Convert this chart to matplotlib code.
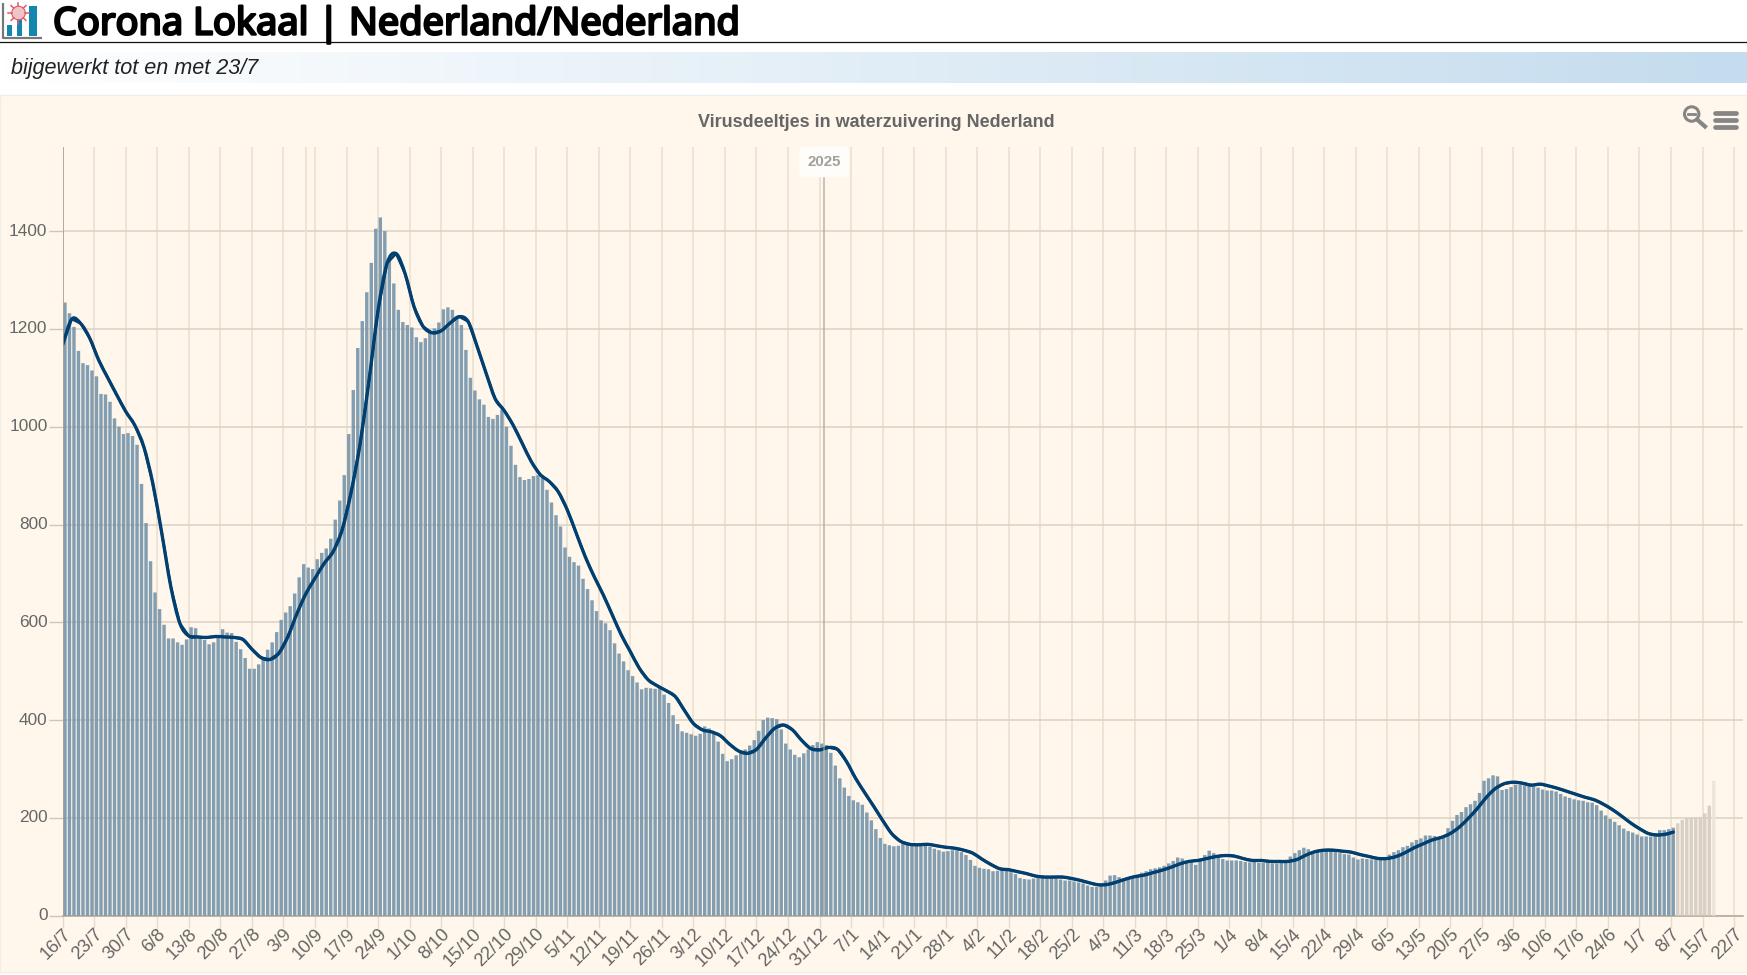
import numpy as np
import matplotlib
matplotlib.use("Agg")
import matplotlib.pyplot as plt
from matplotlib.patches import Rectangle, Circle, PathPatch
from matplotlib.path import Path
import matplotlib.patheffects as pe

title = "Corona Lokaal | Nederland/Nederland"
subtitle = "bijgewerkt tot en met 23/7"
chart_title = "Virusdeeltjes in waterzuivering Nederland"
year_label = "2025"

tick_labels = ["16/7","23/7","30/7","6/8","13/8","20/8","27/8","3/9","10/9","17/9","24/9","1/10","8/10",
    "15/10","22/10","29/10","5/11","12/11","19/11","26/11","3/12","10/12","17/12","24/12","31/12","7/1",
    "14/1","21/1","28/1","4/2","11/2","18/2","25/2","4/3","11/3","18/3","25/3","1/4","8/4","15/4","22/4",
    "29/4","6/5","13/5","20/5","27/5","3/6","10/6","17/6","24/6","1/7","8/7","15/7","22/7"]

bar_values = [
 1254,1232,1204,1155,1130,1126,1115,1103,1067,1066,
 1051,1017,1000,985,987,981,963,883,803,725,
 661,627,595,567,567,559,554,565,590,588,
 572,564,555,559,569,586,579,578,560,545,
 527,505,505,514,529,544,559,580,605,620,
 633,659,692,719,712,709,729,742,751,771,
 810,849,901,985,1075,1161,1216,1275,1335,1405,
 1428,1400,1340,1293,1239,1214,1208,1203,1183,1173,
 1181,1195,1201,1213,1240,1244,1239,1225,1208,1157,
 1100,1074,1056,1045,1020,1016,1024,1035,1000,961,
 922,897,891,893,899,901,895,871,845,819,
 796,753,734,723,716,689,668,645,623,604,
 598,584,557,536,520,502,490,477,463,466,
 465,464,467,452,435,410,392,377,374,371,
 368,372,387,383,373,356,331,316,320,328,
 335,340,348,359,378,400,405,404,402,381,
 352,340,329,324,332,340,349,355,352,349,
 333,307,281,262,245,236,232,227,211,195,
 177,159,147,144,142,143,147,146,144,143,
 143,143,141,137,134,131,132,134,134,130,
 124,114,102,98,96,95,91,92,95,95,
 89,85,77,75,74,76,77,77,76,76,
 76,74,72,72,70,68,66,62,59,59,
 63,72,82,83,79,76,78,78,81,88,
 91,95,97,99,102,107,112,119,117,109,
 108,104,114,124,133,128,120,116,113,113,
 113,112,110,109,110,108,108,108,107,107,
 110,114,121,128,134,139,136,131,133,134,
 134,133,130,128,126,125,119,115,117,116,
 115,115,117,119,125,130,134,140,143,150,
 155,158,164,164,163,161,163,179,194,206,
 212,222,228,235,251,276,281,287,285,257,
 259,263,268,268,267,266,264,262,258,256,
 256,254,249,244,241,238,236,235,232,231,
 226,215,205,198,192,185,178,173,170,166,
 162,162,162,166,175,175,177,180]
provisional_values = [189,196,200,201,201,202,209,225,276]

line_values = [
 1168,1220,1211,1181,1136,1100,1065,1031,1003,959,
 884,782,673,598,572,570,569,571,570,569,
 565,545,528,524,537,571,618,659,690,720,
 744,788,865,964,1095,1238,1334,1354,1313,1245,
 1205,1192,1196,1212,1225,1215,1164,1109,1057,1033,
 1003,966,929,902,888,867,830,782,734,693,
 656,615,574,540,506,482,470,460,448,420,
 393,380,376,368,351,337,332,340,363,383,
 390,380,359,342,339,344,340,315,281,252,
 224,195,168,152,146,145,146,143,140,138,
 134,128,116,105,96,94,90,86,81,79,
 79,79,76,72,67,63,64,69,75,80,
 83,88,93,99,106,111,113,117,121,123,
 122,117,113,113,111,111,111,115,124,131,
 134,134,132,130,125,121,117,117,121,129,
 139,147,155,160,168,181,199,219,242,260,
 270,273,271,267,269,265,260,254,248,242,
 237,228,217,204,190,178,168,165,167,171]
line_days = list(range(0, 358, 2)) + [357.5]

W, H = 1747, 975
BG = "#FFF7EB"
fig = plt.figure(figsize=(W/100, H/100), dpi=100, facecolor="white")

# page furniture in pixel coordinates
pg = fig.add_axes([0, 0, 1, 1], zorder=0)
pg.set_xlim(0, W); pg.set_ylim(H, 0); pg.axis("off")
pg.add_patch(Rectangle((0, 95), W, 877, fc=BG, ec="#F0EEEA", lw=1))
pg.plot([0, W], [42.3, 42.3], color="#111111", lw=0.9)
grad = np.linspace(0, 1, 400)[None, :, None]
c0, c1 = np.array([1, 1, 1.0]), np.array([0xC4, 0xDC, 0xEE]) / 255
pg.imshow(c0 + (c1 - c0) * grad, extent=[0, W, 82.7, 51.7], aspect="auto", zorder=1)
pg.set_xlim(0, W); pg.set_ylim(H, 0)

# logo
pg.plot([3.5, 3.5, 42], [3, 37.5, 37.5], color="#777777", lw=1.6, zorder=2, solid_capstyle="butt")
for x0, y0, w, col in [(7, 25, 5, "#1286AE"), (17, 18, 5, "#1286AE"), (29, 6, 8, "#1286AE")]:
    pg.add_patch(Rectangle((x0, y0), w, 36 - y0, fc=col, ec="none", zorder=2))
pg.add_patch(Circle((18.5, 13), 6.8, fc="#EFC4C4", ec="#E0596B", lw=0.8, zorder=3))
for a in np.arange(0, 2*np.pi, np.pi/4):
    pg.plot([18.5 + 6.8*np.cos(a), 18.5 + 10.5*np.cos(a)], [13 + 6.8*np.sin(a), 13 + 10.5*np.sin(a)],
            color="#E0596B", lw=1.1, zorder=3)

pg.text(53, 34.5, title, fontsize=27.3, family="Noto Sans", fontweight="bold", color="black", va="baseline",
        path_effects=[pe.withStroke(linewidth=1.7, foreground="black")], zorder=4)
pg.text(11, 68.5, subtitle, fontsize=15.6, family="Liberation Sans", style="italic", color="#222222",
        va="center", zorder=4)
pg.text(876, 122.5, chart_title, fontsize=13.0, family="Liberation Sans", fontweight="bold", color="#666666",
        ha="center", va="center", zorder=4)

# export / zoom icons
pg.add_patch(Circle((1691.7, 114), 7.2, fc="none", ec="#858585", lw=2.2, zorder=4))
pg.plot([1688, 1695.5], [114, 114], color="#858585", lw=2, zorder=4)
pg.plot([1697, 1705], [119.5, 126.5], color="#858585", lw=3, zorder=4)
for yy in (112.7, 120, 127.3):
    pg.plot([1715, 1736], [yy, yy], color="#858585", lw=3.4, solid_capstyle="round", zorder=4)

# chart
L, R, T, B = 62.7, 1743, 146.7, 915.7
ax = fig.add_axes([L/W, 1 - B/H, (R-L)/W, (B-T)/H], zorder=1)
ax.patch.set_alpha(0)
PX_PER_DAY = 4.505
PX_PER_UNIT = 0.489
ax.set_xlim(0, (R-L)/PX_PER_DAY)
ax.set_ylim(0, (B-T)/PX_PER_UNIT)

days = np.arange(len(bar_values))
prov_days = np.arange(len(bar_values), len(bar_values) + len(provisional_values))
ax.bar(days + 0.5, bar_values, width=0.76, color="#6F8FA7", alpha=0.85, lw=0, zorder=3, snap=False)
prov_colors = ["#D6CEC3"] * (len(provisional_values) - 1) + ["#EBE4D9"]
ax.bar(prov_days + 0.5, provisional_values, width=0.76, color=prov_colors, alpha=0.95, lw=0, zorder=3, snap=False)

# the line: readings drawn as a smooth spline through every reading, as the original chart does
xs, ys = np.array(line_days, float), np.array(line_values, float)
ax.plot(xs, ys, color="#003F6F", lw=1.8, solid_joinstyle="round", zorder=4)
tx, ty = np.gradient(xs), np.gradient(ys)
verts, codes = [(xs[0], ys[0])], [Path.MOVETO]
for i in range(len(xs) - 1):
    verts += [(xs[i] + tx[i]/3, ys[i] + ty[i]/3), (xs[i+1] - tx[i+1]/3, ys[i+1] - ty[i+1]/3), (xs[i+1], ys[i+1])]
    codes += [Path.CURVE4] * 3
ax.add_patch(PathPatch(Path(verts, codes), fc="none", ec="#003F6F", lw=2.4, capstyle="round", joinstyle="round", zorder=4))

ax.set_yticks(np.arange(0, 1401, 200))
ax.set_xticks(np.arange(len(tick_labels)) * 7)
ax.set_xticklabels(tick_labels, rotation=45, ha="right", va="top", rotation_mode="anchor",
                   family="Liberation Sans", fontsize=13.2, color="#666666")
for lab in ax.get_yticklabels():
    lab.set_family("Liberation Sans"); lab.set_fontsize(12.4); lab.set_color("#666666"); lab.set_va("center")
ax.tick_params(axis="x", length=8.6, width=1.0, color="#E6DCCD", pad=-1.5)
ax.tick_params(axis="y", length=10, width=1.0, color="#CFC6B8", pad=1)
ax.grid(axis="x", color="#EBE1D2", lw=1.2, zorder=1)
ax.grid(axis="y", color="#DED4C6", lw=1.2, zorder=1)
ax.set_axisbelow(True)
for s in ("top", "right", "left"):
    ax.spines[s].set_visible(False)
ax.spines["bottom"].set_color("#B5AB9C"); ax.spines["bottom"].set_linewidth(1.2)

# extra gridline and plot lines
ax.axvline(54, color="#EBE1D2", lw=1.2, zorder=1)
ax.axvline(0, color="#A9A093", lw=1.2, zorder=5)
ax.axvline(169, color="#A9A093", lw=1.2, alpha=0.7, zorder=5)
ax.text(169, (B-162)/PX_PER_UNIT, year_label, ha="center", va="center", fontsize=10.8, fontweight="bold",
        family="Liberation Sans", color="#A0A0A0", zorder=7,
        bbox=dict(boxstyle="round,pad=0.55,rounding_size=0.4", fc="#FFFDFA", ec="none"))

fig.savefig("out.png", dpi=100)
